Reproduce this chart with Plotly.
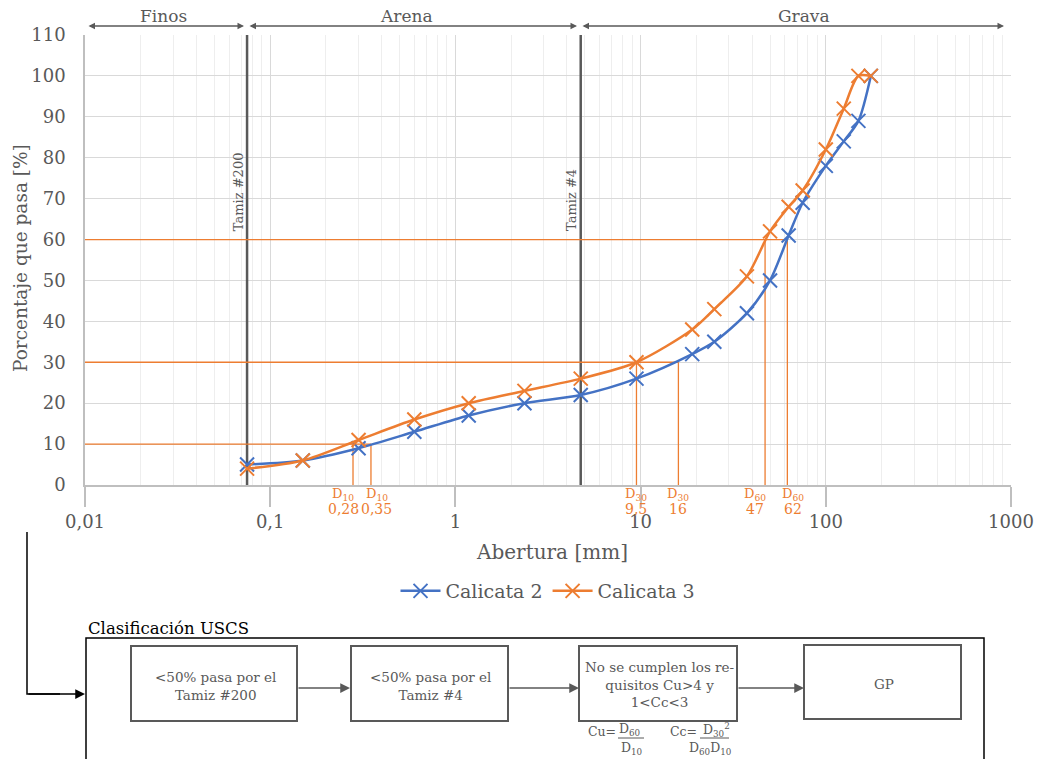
import math
import plotly.graph_objects as go

# ---------------- data ----------------
sizes = [0.075, 0.15, 0.3, 0.6, 1.18, 2.36, 4.75, 9.5, 19, 25, 37.5, 50, 63, 75, 100, 125, 150, 175]
pass_c2 = [5, 6, 9, 13, 17, 20, 22, 26, 32, 35, 42, 50, 61, 69, 78, 84, 89, 100]
pass_c3 = [4, 6, 11, 16, 20, 23, 26, 30, 38, 43, 51, 62, 68, 72, 82, 92, 100, 100]

d_pcts = [10, 30, 60]
d_c2 = [0.35, 16, 62]
d_c3 = [0.28, 9.5, 47]

sieves = [0.075, 4.75]
sieve_names = ["Tamiz #200", "Tamiz #4"]

x_ticks = [0.01, 0.1, 1, 10, 100, 1000]
x_ticktext = ["0,01", "0,1", "1", "10", "100", "1000"]
y_ticks = list(range(0, 111, 10))

zones = ["Finos", "Arena", "Grava"]

FONT = "DejaVu Serif"
GRAY = "#595959"
BLUE = "#4472C4"
ORANGE = "#ED7D31"

# layout geometry (pixels)
W, H = 1041, 759
L, R, T, B = 85, 1011, 35, 485


def px(x):
    return (x - L) / (R - L)


def py(y):
    return (B - y) / (B - T)


fig = go.Figure()

# sieve lines
for s in sieves:
    fig.add_trace(go.Scatter(x=[s, s], y=[0, 110], mode="lines",
                             line=dict(color=GRAY, width=2.5),
                             showlegend=False, hoverinfo="skip"))

# D reference lines
for p, a, b in zip(d_pcts, d_c3, d_c2):
    hi = max(a, b)
    fig.add_trace(go.Scatter(x=[0.01, hi], y=[p, p], mode="lines",
                             line=dict(color=ORANGE, width=1.3),
                             showlegend=False, hoverinfo="skip"))
    for v in (a, b):
        fig.add_trace(go.Scatter(x=[v, v], y=[0, p], mode="lines",
                                 line=dict(color=ORANGE, width=1.3),
                                 showlegend=False, hoverinfo="skip"))

# main curves
fig.add_trace(go.Scatter(x=sizes, y=pass_c2, mode="lines+markers", name="Calicata 2",
                         line=dict(color=BLUE, width=2.5, shape="spline", smoothing=0.8),
                         marker=dict(symbol="x-thin", size=14, line=dict(color=BLUE, width=2))))
fig.add_trace(go.Scatter(x=sizes, y=pass_c3, mode="lines+markers", name="Calicata 3",
                         line=dict(color=ORANGE, width=2.5, shape="spline", smoothing=0.8),
                         marker=dict(symbol="x-thin", size=14, line=dict(color=ORANGE, width=2))))

ann = []
shapes = []

# D labels below axis
for p, pair in zip(d_pcts, zip(d_c3, d_c2)):
    lo, hi = sorted(pair)
    close = math.log10(hi) - math.log10(lo) < 0.15
    for v, sh in ((lo, -10 if close else 0), (hi, 6 if close else 0)):
        lx = math.log10(v)
        ann.append(dict(x=lx, xref="x", y=py(495), yref="paper", yanchor="middle",
                        xanchor="center", xshift=sh,
                        text="D<sub>%d</sub>" % p, showarrow=False,
                        font=dict(family=FONT, size=13, color=ORANGE)))
        ann.append(dict(x=lx, xref="x", y=py(509), yref="paper", yanchor="middle",
                        xanchor="center", xshift=sh,
                        text=("%g" % v).replace(".", ","), showarrow=False,
                        font=dict(family=FONT, size=14, color=ORANGE)))

# sieve labels
for s, name, yc in zip(sieves, sieve_names, [71.6, 69.6]):
    ann.append(dict(x=math.log10(s), xref="x", y=yc, yref="y", xshift=-9,
                    xanchor="center", yanchor="middle",
                    text=name, textangle=-90, showarrow=False,
                    font=dict(family=FONT, size=13, color=GRAY)))

# zone arrows and labels
bounds_px = [(87, 244), (248, 577), (581, 1004)]
label_px = [163, 406, 804]
for z, (a, b), lc in zip(zones, bounds_px, label_px):
    ann.append(dict(x=px(b), xref="paper", y=py(26), yref="paper",
                    ax=a - b, ay=0, axref="pixel", ayref="pixel",
                    text="", showarrow=True, arrowside="end+start",
                    arrowhead=2, startarrowhead=2, arrowsize=1, startarrowsize=1,
                    arrowwidth=1.3, arrowcolor=GRAY))
    ann.append(dict(x=px(lc), xref="paper", y=py(16), yref="paper",
                    text=z, showarrow=False, xanchor="center", yanchor="middle",
                    font=dict(family=FONT, size=17, color=GRAY)))

# axis titles
ann.append(dict(x=px(552), xref="paper", y=py(552), yref="paper", xanchor="center",
                yanchor="middle", text="Abertura [mm]", showarrow=False,
                font=dict(family=FONT, size=20, color=GRAY)))
ann.append(dict(x=px(20), xref="paper", y=py(258), yref="paper", xanchor="center",
                yanchor="middle", text="Porcentaje que pasa [%]", textangle=-90,
                showarrow=False, font=dict(family=FONT, size=18.5, color=GRAY)))

# ---------------- flowchart ----------------
ann.append(dict(x=px(86), xref="paper", y=py(628), yref="paper", xanchor="left",
                yanchor="middle", text="Clasificación USCS", showarrow=False,
                font=dict(family=FONT, size=16.5, color="#000000")))
shapes.append(dict(type="rect", xref="paper", yref="paper",
                   x0=px(86), x1=px(984), y0=py(638), y1=py(790),
                   line=dict(color="#000000", width=1.5)))

boxes = [(131, 646, 297, 721), (351, 646, 508, 721), (579, 646, 737, 721), (804, 645, 961, 719)]
box_texts = ["&lt;50% pasa por el<br>Tamiz #200",
             "&lt;50% pasa por el<br>Tamiz #4",
             "No se cumplen los re-<br>quisitos Cu&gt;4 y<br>1&lt;Cc&lt;3",
             "GP"]
box_text_y = [686, 686, 684, 684]
for (x0, y0, x1, y1), t, ty in zip(boxes, box_texts, box_text_y):
    shapes.append(dict(type="rect", xref="paper", yref="paper",
                       x0=px(x0), x1=px(x1), y0=py(y0), y1=py(y1),
                       line=dict(color=GRAY, width=2)))
    ann.append(dict(x=px((x0 + x1) / 2 + 1), xref="paper", y=py(ty), yref="paper",
                    xanchor="center", yanchor="middle", text=t, showarrow=False,
                    font=dict(family=FONT, size=13.5, color=GRAY)))

for tail, head in [(297, 350), (508, 579), (737, 804)]:
    ann.append(dict(x=px(head), xref="paper", y=py(688), yref="paper",
                    ax=tail - head, ay=0, axref="pixel", ayref="pixel",
                    text="", showarrow=True, arrowhead=2, arrowsize=1.3,
                    arrowwidth=1.5, arrowcolor=GRAY))

# connector from chart to flowchart
shapes.append(dict(type="path", xref="paper", yref="paper",
                   path="M %f %f L %f %f L %f %f" % (px(27), py(532), px(27), py(694), px(60), py(694)),
                   line=dict(color="#000000", width=1.5)))
ann.append(dict(x=px(85), xref="paper", y=py(694), yref="paper",
                ax=-58, ay=0, axref="pixel", ayref="pixel",
                text="", showarrow=True, arrowhead=2, arrowsize=1.3,
                arrowwidth=1.5, arrowcolor="#000000"))

# formulas
ff = dict(family=FONT, size=12.5, color=GRAY)
formulas = [
    dict(x=px(618), y=py(731), xanchor="right", text="Cu=", font=ff),
    dict(x=px(617), y=py(730), xanchor="left", text="D<sub>60</sub>", font=ff),
    dict(x=px(631), y=py(748), xanchor="center", text="D<sub>10</sub>", font=ff),
    dict(x=px(699), y=py(731), xanchor="right", text="Cc=", font=ff),
    dict(x=px(701), y=py(730), xanchor="left", text="D<sub>30</sub><sup>2</sup>", font=ff),
    dict(x=px(710), y=py(748), xanchor="center", text="D<sub>60</sub>D<sub>10</sub>", font=ff),
]
for a in formulas:
    a.update(xref="paper", yref="paper", yanchor="middle", showarrow=False)
ann += formulas
shapes.append(dict(type="line", xref="paper", yref="paper", x0=px(618), x1=px(644),
                   y0=py(738), y1=py(738), line=dict(color=GRAY, width=1)))
shapes.append(dict(type="line", xref="paper", yref="paper", x0=px(700), x1=px(729),
                   y0=py(738), y1=py(738), line=dict(color=GRAY, width=1)))

minor_vals = [m * 10 ** e for e in range(-2, 3) for m in range(2, 10)]

fig.update_layout(
    width=W, height=H, autosize=False,
    margin=dict(l=L, r=W - R, t=T, b=H - B, pad=0),
    paper_bgcolor="white", plot_bgcolor="white",
    font=dict(family=FONT, color=GRAY),
    xaxis=dict(type="log", range=[-2, 3], tickvals=x_ticks, ticktext=x_ticktext,
               automargin=False,
               showgrid=True, gridcolor="#D9D9D9", gridwidth=1.3,
               minor=dict(tickvals=minor_vals, showgrid=True, gridcolor="#EEEEEE", gridwidth=1.3),
               ticks="outside", ticklen=20, tickcolor="#BFBFBF", tickwidth=1.5,
               showline=True, linecolor="#BFBFBF", linewidth=1.5, zeroline=False,
               tickfont=dict(family=FONT, size=18, color=GRAY)),
    yaxis=dict(range=[0, 110], tickvals=y_ticks, showgrid=True, gridcolor="#D9D9D9",
               automargin=False,
               gridwidth=1.3, showline=True, linecolor="#BFBFBF", linewidth=1.5,
               zeroline=False, ticks="outside", ticklen=14, tickcolor="rgba(0,0,0,0)",
               tickfont=dict(family=FONT, size=18, color=GRAY)),
    legend=dict(orientation="h", x=0.5, xanchor="center", y=py(591), yanchor="middle",
                font=dict(family=FONT, size=19, color=GRAY), itemwidth=40,
                bgcolor="rgba(0,0,0,0)"),
    annotations=ann,
    shapes=shapes,
)

fig.write_html("out.html")
